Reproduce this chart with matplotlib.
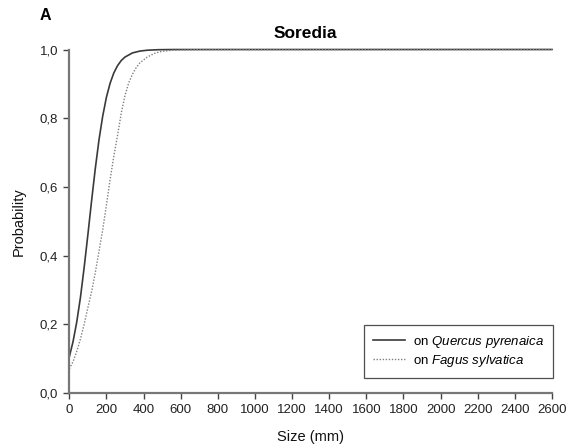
import matplotlib
matplotlib.use("Agg")
import matplotlib.pyplot as plt

plt.rcParams['font.family'] = ['Liberation Sans', 'DejaVu Sans']
plt.rcParams['mathtext.fontset'] = 'custom'
plt.rcParams['mathtext.rm'] = 'Liberation Sans'
plt.rcParams['mathtext.it'] = 'Liberation Sans:italic'

# Fitted probability of soredia vs. thallus size
size_quercus = [0, 20, 40, 60, 80, 100, 120, 140, 160, 180, 200, 220, 240, 260, 280,
                300, 340, 380, 420, 480, 560, 2600]
prob_quercus = [0.105, 0.149, 0.206, 0.278, 0.365, 0.460, 0.559, 0.653, 0.737, 0.806,
                0.861, 0.902, 0.932, 0.953, 0.968, 0.978, 0.990, 0.9954, 0.9979,
                0.9994, 0.9999, 1.0]

size_fagus = [0, 20, 40, 60, 80, 100, 120, 140, 160, 180, 200, 220, 240, 260, 280, 300,
              320, 340, 360, 380, 420, 460, 500, 560, 640, 720, 2600]
prob_fagus = [0.070, 0.091, 0.121, 0.157, 0.200, 0.248, 0.295, 0.350, 0.413, 0.475,
              0.547, 0.622, 0.690, 0.750, 0.815, 0.866, 0.903, 0.928, 0.947, 0.961,
              0.978, 0.989, 0.995, 0.998, 0.9991, 0.9997, 1.0]

x_ticks = list(range(0, 2601, 200))
y_ticks = [0.0, 0.2, 0.4, 0.6, 0.8, 1.0]
y_tick_labels = ['0,0', '0,2', '0,4', '0,6', '0,8', '1,0']

fig = plt.figure(figsize=(5.67, 4.48), dpi=100)
ax = fig.add_axes([0.1222, 0.1228, 0.8513, 0.7667])

ax.plot(size_quercus, prob_quercus, color='#3a3a3a', lw=1.2, ls='-',
        clip_on=False, label=r'on $\it{Quercus\ pyrenaica}$')
ax.plot(size_fagus, prob_fagus, color='#808080', lw=1.0, ls=(0, (1, 1.2)),
        clip_on=False, label=r'on $\it{Fagus\ sylvatica}$')

ax.set_xlim(0, 2600)
ax.set_ylim(0, 1)
ax.set_xticks(x_ticks)
ax.set_xticklabels([str(t) for t in x_ticks])
ax.set_yticks(y_ticks)
ax.set_yticklabels(y_tick_labels)

for side in ('top', 'right'):
    ax.spines[side].set_visible(False)
for side in ('left', 'bottom'):
    ax.spines[side].set_color('#777777')
    ax.spines[side].set_linewidth(1.6)

ax.tick_params(axis='both', direction='out', length=4, width=1.0, color='#444444',
               labelsize=9.5, labelcolor='#222222', pad=4)

ax.set_xlabel('Size (mm)', fontsize=10.5, labelpad=10, color='#111111')
ax.set_ylabel('Probability', fontsize=10.5, labelpad=10, color='#111111')

fig.text(305 / 567, 1 - 33 / 448, 'Soredia', fontsize=12.5, fontweight='bold',
         ha='center', va='center')
fig.text(45 / 567, 1 - 15 / 448, 'A', fontsize=11.5, fontweight='bold',
         ha='center', va='center')

leg = ax.legend(loc='lower right', bbox_to_anchor=(1.002, 0.044), fontsize=9.5,
                frameon=True, fancybox=False, handlelength=2.4, handletextpad=0.6,
                borderpad=0.7, labelspacing=0.2, borderaxespad=0)
leg.get_frame().set_edgecolor('#222222')
leg.get_frame().set_linewidth(0.9)

fig.savefig('out.png', dpi=100)
